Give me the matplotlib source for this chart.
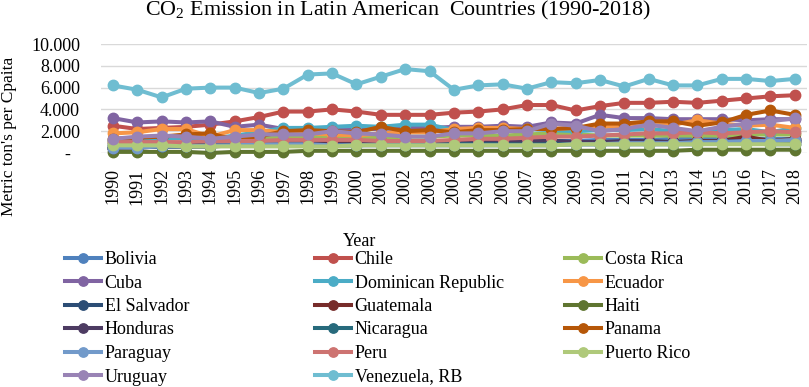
import numpy as np
import matplotlib.pyplot as plt

plt.rcParams['font.family'] = ['Liberation Serif', 'DejaVu Serif']
plt.rcParams['mathtext.fontset'] = 'custom'
plt.rcParams['mathtext.rm'] = 'Liberation Serif'

years = [str(y) for y in range(1990, 2019)]

countries = ['Bolivia', 'Chile', 'Costa Rica', 'Cuba', 'Dominican Republic', 'Ecuador',
             'El Salvador', 'Guatemala', 'Haiti', 'Honduras', 'Nicaragua', 'Panama',
             'Paraguay', 'Peru', 'Puerto Rico', 'Uruguay', 'Venezuela, RB']

bolivia = [0.8, 0.8, 0.8, 0.8, 0.9, 0.9, 1.0, 1.0, 1.1, 1.0, 0.9, 0.9, 0.9, 0.9, 0.9,
           1.0, 1.0, 1.0, 1.1, 1.1, 1.2, 1.2, 1.2, 1.3, 1.3, 1.3, 1.3, 1.3, 1.3]
chile = [2.5, 2.2, 2.3, 2.4, 2.6, 2.9, 3.3, 3.8, 3.8, 4.0, 3.8, 3.5, 3.5, 3.5, 3.7,
         3.8, 4.0, 4.4, 4.4, 3.9, 4.3, 4.6, 4.6, 4.7, 4.6, 4.8, 5.0, 5.2, 5.3]
costa_rica = [1.0, 1.1, 1.3, 1.4, 1.5, 1.4, 1.4, 1.4, 1.5, 1.5, 1.4, 1.4, 1.5, 1.5, 1.6,
              1.6, 1.6, 1.7, 1.8, 1.7, 1.6, 1.6, 1.6, 1.6, 1.6, 1.6, 1.7, 1.7, 1.7]
cuba = [3.2, 2.8, 2.9, 2.8, 2.9, 2.4, 2.6, 2.2, 2.2, 2.3, 2.2, 2.2, 2.3, 2.3, 2.4,
        2.4, 2.5, 2.4, 2.8, 2.7, 3.5, 3.2, 3.2, 3.1, 3.1, 3.1, 3.0, 3.1, 3.1]
dominican = [1.2, 1.2, 1.3, 1.4, 1.3, 1.6, 1.9, 2.3, 2.3, 2.4, 2.5, 2.4, 2.6, 2.6, 2.1,
             2.1, 2.2, 2.2, 2.1, 2.0, 2.1, 2.1, 2.2, 2.0, 2.0, 2.1, 2.2, 1.9, 2.3]
ecuador = [1.8, 1.9, 2.2, 2.2, 1.5, 2.1, 2.1, 1.9, 1.8, 1.7, 1.6, 1.8, 1.9, 1.9, 2.2,
           2.3, 2.3, 2.2, 2.2, 2.3, 2.4, 2.5, 2.5, 2.6, 3.0, 2.7, 2.5, 2.6, 2.3]
el_salvador = [0.5, 0.5, 0.6, 0.7, 0.8, 0.9, 0.8, 0.9, 0.9, 0.9, 1.0, 1.0, 1.0, 1.0, 1.0,
               1.0, 1.1, 1.1, 1.1, 1.0, 1.0, 1.0, 1.0, 1.0, 1.0, 1.1, 1.0, 1.0, 1.1]
guatemala = [0.5, 0.5, 0.6, 0.6, 0.7, 0.7, 0.7, 0.8, 0.9, 0.9, 0.9, 1.0, 1.0, 1.0, 0.9,
             0.9, 0.9, 0.9, 0.8, 0.9, 0.8, 0.9, 0.9, 1.0, 1.1, 1.1, 1.5, 1.1, 1.3]
haiti = [0.1, 0.1, 0.1, 0.1, 0.0, 0.1, 0.1, 0.1, 0.2, 0.2, 0.2, 0.2, 0.2, 0.2, 0.2,
         0.2, 0.2, 0.2, 0.2, 0.2, 0.2, 0.2, 0.2, 0.2, 0.3, 0.3, 0.3, 0.3, 0.3]
honduras = [0.5, 0.6, 0.6, 0.6, 0.6, 0.7, 0.7, 0.7, 0.8, 0.8, 0.8, 0.9, 0.9, 1.0, 1.0,
            1.1, 1.1, 1.2, 1.1, 1.0, 1.0, 1.1, 1.1, 1.0, 1.0, 1.1, 1.1, 1.1, 1.1]
nicaragua = [0.6, 0.6, 0.6, 0.6, 0.6, 0.7, 0.7, 0.7, 0.7, 0.7, 0.7, 0.8, 0.8, 0.8, 0.8,
             0.8, 0.8, 0.8, 0.8, 0.8, 0.8, 0.8, 0.8, 0.8, 0.8, 0.9, 0.9, 0.8, 0.8]
panama = [1.3, 1.4, 1.5, 1.7, 1.8, 1.2, 1.5, 2.0, 2.1, 2.0, 1.9, 2.4, 2.0, 2.1, 1.9,
          2.1, 2.1, 2.2, 2.2, 2.3, 2.7, 2.7, 2.9, 2.9, 2.5, 2.8, 3.5, 3.9, 3.5]
paraguay = [0.5, 0.5, 0.6, 0.6, 0.7, 0.7, 0.8, 0.8, 0.8, 0.7, 0.7, 0.7, 0.7, 0.7, 0.7,
            0.7, 0.7, 0.7, 0.7, 0.8, 0.8, 0.9, 0.9, 0.9, 1.0, 1.0, 1.1, 1.1, 1.2]
peru = [1.0, 1.0, 1.0, 1.0, 1.1, 1.1, 1.1, 1.2, 1.2, 1.2, 1.2, 1.1, 1.1, 1.1, 1.2,
        1.3, 1.3, 1.4, 1.5, 1.5, 1.6, 1.7, 1.8, 1.8, 1.9, 1.8, 1.9, 2.0, 1.9]
puerto_rico = [0.7, 0.7, 0.7, 0.6, 0.6, 0.6, 0.6, 0.6, 0.6, 0.6, 0.7, 0.7, 0.7, 0.7, 0.7,
               0.7, 0.7, 0.7, 0.7, 0.8, 0.8, 0.8, 0.8, 0.8, 0.8, 0.8, 0.8, 0.8, 0.8]
uruguay = [1.3, 1.5, 1.6, 1.5, 1.3, 1.5, 1.7, 1.7, 1.7, 2.0, 1.8, 1.7, 1.5, 1.5, 1.8,
           1.8, 2.0, 2.0, 2.7, 2.5, 2.0, 2.2, 2.6, 2.3, 2.0, 2.4, 2.7, 2.9, 3.2]
venezuela = [6.2, 5.8, 5.1, 5.9, 6.0, 6.0, 5.5, 5.9, 7.2, 7.3, 6.3, 7.0, 7.7, 7.5, 5.8,
             6.2, 6.3, 5.9, 6.5, 6.4, 6.7, 6.1, 6.8, 6.2, 6.2, 6.8, 6.8, 6.6, 6.8]

series = [bolivia, chile, costa_rica, cuba, dominican, ecuador, el_salvador, guatemala,
          haiti, honduras, nicaragua, panama, paraguay, peru, puerto_rico, uruguay, venezuela]

colors = ['#4F81BD', '#C0504D', '#9BBB59', '#8064A2', '#4BACC6', '#F79646',
          '#2C4D75', '#772C2A', '#5F7530', '#4D3B62', '#276A7C', '#B65708',
          '#729ACA', '#CD7371', '#AFC97A', '#9983B5', '#6FBDD1']

fig = plt.figure(figsize=(8.09, 3.87), dpi=100)
ax = fig.add_axes([0.1246, 0.6047, 0.8729, 0.2816])

x = np.arange(len(years))
lines = []
for name, vals, col in zip(countries, series, colors):
    ln, = ax.plot(x, vals, color=col, lw=2.9, marker='o', ms=7.5, label=name,
                  clip_on=False)
    lines.append(ln)

ax.set_xlim(-0.5, len(years) - 0.5)
ax.set_ylim(0, 10)
yt = [0, 2, 4, 6, 8, 10]
ax.set_yticks(yt)
ax.set_yticklabels(['-  '] + ['%.3f' % v for v in yt[1:]])
ax.set_xticks(x)
ax.set_xticklabels(years, rotation=90)
ax.tick_params(axis='both', length=0, labelsize=13)
ax.tick_params(axis='y', pad=15)
ax.tick_params(axis='x', pad=11)
ax.yaxis.grid(True, color='#d9d9d9', lw=1)
ax.set_axisbelow(True)
for s in ax.spines.values():
    s.set_visible(False)

fig.text(0.492, 0.9587, r'CO$_\mathrm{2}$ Emission in Latin American  Countries (1990-2018)',
         ha='center', va='baseline', fontsize=15.8)
fig.text(0.011, 0.647, "Metric ton's per Cpaita", rotation=90,
         ha='center', va='center', fontsize=12.5)
fig.text(0.445, 0.364, 'Year', ha='center', va='baseline', fontsize=13)

# legend laid out row by row, one legend per column
col_x = [65, 315, 565]
for c in range(3):
    idx = list(range(c, len(lines), 3))
    fig.legend([lines[i] for i in idx], [countries[i] for i in idx],
               loc='upper left', bbox_to_anchor=(col_x[c] / 809, 1 - 251 / 387),
               frameon=False, fontsize=13, handlelength=2.0, handletextpad=0.2,
               labelspacing=0.36, borderpad=0, borderaxespad=0, markerscale=0.9)

fig.savefig('out.png', dpi=100)
